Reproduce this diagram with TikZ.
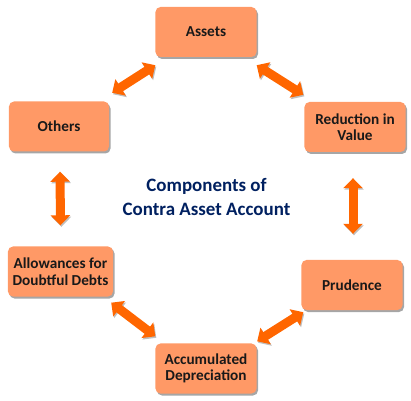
\documentclass[tikz,border=0pt]{standalone}
\usepackage{fontspec}
\setmainfont{Carlito}
\usepackage{tikz}
\usetikzlibrary{arrows.meta}
\usetikzlibrary{shadows}
\usetikzlibrary{calc}
\definecolor{boxfill}{HTML}{FF9966}
\definecolor{linkorange}{HTML}{FF6600}
\definecolor{titleblue}{HTML}{002060}
\tikzset{
    part/.style={draw=none, fill=boxfill, rounded corners=5bp, minimum width=101bp, minimum height=50bp,
        align=center, font=\bfseries\fontsize{15.3}{16.5}\selectfont, text=black!90, inner sep=2bp,
        drop shadow={shadow xshift=1.5bp, shadow yshift=-2bp, fill=black, opacity=0.35}},
    link/.style={draw=linkorange, line width=9bp,
        {Triangle[width=19bp,length=10bp]}-{Triangle[width=19bp,length=10bp]},
        preaction={draw=black!25, transform canvas={shift={(1bp,-1.5bp)}}}},
}

\begin{document}
\begin{tikzpicture}[x=1bp, y=1bp]
    \useasboundingbox (0,0) rectangle (411,401);

    % Boxes
    \node[part] (assets) at (206,369) {Assets};
    \node[part] (reduction) at (355,274) {Reduction in\\Value};
    \node[part, minimum width=100bp] (others) at (59,274.5) {Others};
    \node[part, minimum width=105bp] (allow) at (60.5,129.5) {Allowances for\\Doubtful Debts};
    \node[part] (accum) at (206,32.5) {Accumulated\\Depreciation};
    \node[part] (prudence) at (352,116) {Prudence};

    % Title
    \node[align=center, text=titleblue, font=\bfseries\fontsize{19}{23.5}\selectfont] (title) at (206.5,204)
        {Components of\\Contra Asset Account};

    % Arrows
    \draw[link] ($(assets.south west)+(0,-8)$) -- ($(others.north east)+(3,8.5)$);
    \draw[link] ($(assets.south east)+(0,-8)$) -- ($(reduction.north west)+(-1,7)$);
    \draw[link] ($(others.south)+(1,-20)$) -- ($(allow.north)+(0,21)$);
    \draw[link] ($(reduction.south)+(-2,-26)$) -- ($(prudence.north)+(1,26)$);
    \draw[link] ($(allow.south east)+(-2,-6)$) -- ($(accum.north west)+(0,7)$);
    \draw[link] ($(prudence.south west)+(2,-2)$) -- ($(accum.north east)+(0.5,2)$);
\end{tikzpicture}
\end{document}
